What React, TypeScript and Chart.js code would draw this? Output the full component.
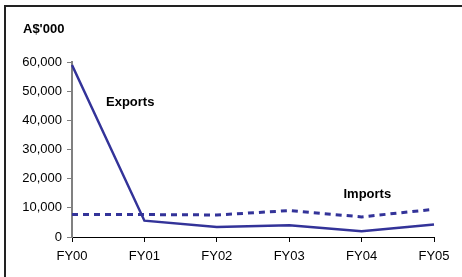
import React, { useEffect, useRef } from "react";
import { Chart, registerables } from "chart.js";

Chart.register(...registerables);

const categories = ["FY00", "FY01", "FY02", "FY03", "FY04", "FY05"];
const exportsValues = [59000, 5600, 3400, 4000, 1950, 4250];
const importsValues = [7700, 7700, 7550, 9050, 6900, 9500];
const yTicks = [0, 10000, 20000, 30000, 40000, 50000, 60000];
const unitLabel = "A$'000";
const exportsLabel = "Exports";
const importsLabel = "Imports";

const FONT = "'Liberation Sans', Arial, sans-serif";
const LINE = "#333399";

const overlayPlugin = {
  id: "overlay",
  afterDraw(chart: any) {
    const ctx = chart.ctx;
    ctx.save();
    ctx.strokeStyle = "#222222";
    ctx.lineWidth = 2;
    ctx.beginPath();
    ctx.moveTo(5, 300);
    ctx.lineTo(5, 6);
    ctx.lineTo(470, 6);
    ctx.stroke();
    ctx.fillStyle = "#000";
    ctx.font = `bold 13px ${FONT}`;
    ctx.textBaseline = "middle";
    ctx.textAlign = "left";
    ctx.fillText(unitLabel, 23, 29);
    const x = chart.scales.x;
    const y = chart.scales.y;
    ctx.fillText(exportsLabel, x.getPixelForValue(0) + 34, y.getPixelForValue(46000));
    ctx.fillText(importsLabel, x.getPixelForValue(3.75) - 0, y.getPixelForValue(14500));
    ctx.restore();
  },
};

export default function App() {
  const ref = useRef<HTMLCanvasElement>(null);
  useEffect(() => {
    document.body.style.margin = "0";
    const chart = new Chart(ref.current!, {
      type: "line",
      data: {
        labels: categories,
        datasets: [
          {
            label: exportsLabel,
            data: exportsValues,
            borderColor: LINE,
            borderWidth: 2.5,
            pointRadius: 0,
            tension: 0,
            fill: false,
          },
          {
            label: importsLabel,
            data: importsValues,
            borderColor: LINE,
            borderWidth: 3,
            borderDash: [6, 5],
            pointRadius: 0,
            tension: 0,
            fill: false,
          },
        ],
      },
      options: {
        animation: false,
        responsive: false,
        maintainAspectRatio: false,
        layout: { padding: { left: 0, top: 62, right: 28, bottom: 0 } },
        plugins: { legend: { display: false }, tooltip: { enabled: false }, title: { display: false } },
        scales: {
          x: {
            type: "category",
            offset: false,
            grid: { display: true, drawOnChartArea: false, color: "#000", tickLength: 5, lineWidth: 1 },
            border: { display: true, color: "#000", width: 1 },
            ticks: {
              color: "#000",
              font: { family: FONT, size: 13 },
              padding: 7,
              maxRotation: 0,
              autoSkip: false,
            },
            afterFit: (s: any) => {
              s.height = 40;
            },
          },
          y: {
            min: 0,
            max: 60000,
            afterBuildTicks: (s: any) => {
              s.ticks = yTicks.map((v) => ({ value: v }));
            },
            grid: { display: true, drawOnChartArea: false, color: "#808080", tickLength: 5, lineWidth: 1 },
            border: { display: true, color: "#808080", width: 2 },
            ticks: {
              color: "#000",
              font: { family: FONT, size: 13 },
              padding: 5,
              callback: (v: any) => Number(v).toLocaleString("en-US"),
            },
            afterFit: (s: any) => {
              s.width = 72;
            },
          },
        },
      },
      plugins: [overlayPlugin],
    });
    return () => chart.destroy();
  }, []);
  return (
    <div style={{ width: 462, height: 277, background: "#fff" }}>
      <canvas ref={ref} width={462} height={277} style={{ display: "block" }} />
    </div>
  );
}
